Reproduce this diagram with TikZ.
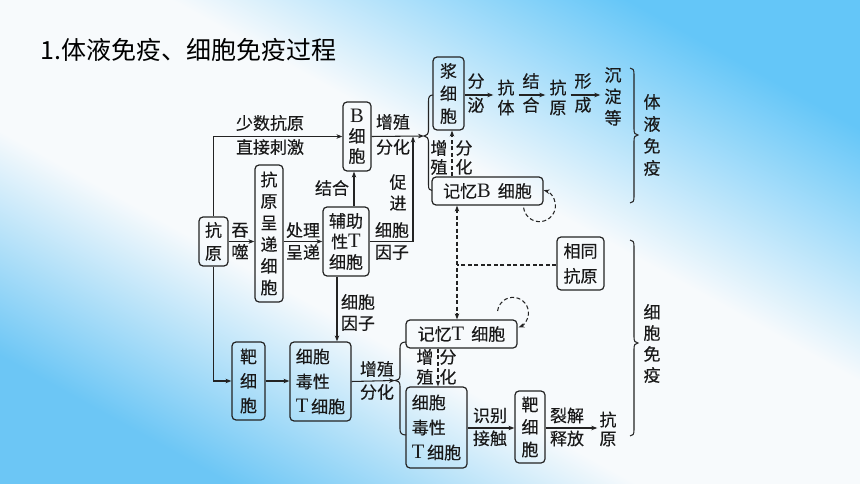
\documentclass[tikz,border=0pt]{standalone}
\usepackage{fontspec}
\usetikzlibrary{arrows.meta,calc}
\newfontfamily\cjk[FakeBold=0.35]{Noto Sans CJK SC}
\newfontfamily\ttl{Noto Sans CJK SC}
\newfontfamily\lat{Liberation Serif}
\newcommand\LL[1]{{\lat\fontsize{20.5}{20}\selectfont #1}}
\definecolor{linec}{RGB}{35,35,35}
\definecolor{txtc}{RGB}{25,25,25}
\definecolor{bgA}{RGB}{108,198,245}
\definecolor{bgB}{RGB}{100,198,248}
\definecolor{bgM}{RGB}{247,250,252}
\pgfdeclareverticalshading{bgsh}{100bp}{color(0bp)=(bgA); color(25bp)=(bgA); color(41bp)=(bgM); color(57bp)=(bgM); color(75bp)=(bgB); color(100bp)=(bgB)}
\tikzset{
  >={Stealth[length=6pt,width=4.5pt]},
  fnt/.style={font=\cjk\fontsize{17}{#1}\selectfont},
  fnt/.default=21,
  cbox/.style={draw=linec, line width=1.2pt, rounded corners=4pt, inner sep=0pt, align=center, text=txtc, fnt},
  lbl/.style={inner sep=0pt, align=center, text=txtc, fnt},
  ctext/.style={inner xsep=4pt, inner ysep=0pt, align=center, text=txtc, fnt},
  arr/.style={draw=linec, line width=1.05pt, ->},
  darr/.style={draw=linec, line width=1.05pt, dash pattern=on 4pt off 2.5pt},
  brc/.style={draw=linec, line width=1.05pt},
}
\begin{document}
\begin{tikzpicture}[x=1pt,y=1pt]
\fill[shading=bgsh, shading angle=-29] (0,0) rectangle (860,-484);
\useasboundingbox (0,0) rectangle (860,-484);

\node[anchor=west, inner sep=0pt, text=black, font=\ttl\fontsize{25}{26}\selectfont] (title) at (40,-50) {1.体液免疫、细胞免疫过程};

% boxes
\node[cbox,fnt=20,minimum width=28,minimum height=69] (B) at (357,-136.5) {\LL{B}\\细\\胞};
\node[cbox,fnt=22.5,minimum width=31,minimum height=73] (pl) at (448.5,-93.5) {浆\\细\\胞};
\node[cbox,minimum width=111,minimum height=28] (mB) at (487.5,-191) {记忆\LL{B}\hspace{7pt}细胞};
\node[cbox,fnt=23,minimum width=29,minimum height=49] (ag) at (213.5,-241.5) {抗\\原};
\node[cbox,fnt=21.6,minimum width=28,minimum height=137] (apc) at (269,-233.5) {抗\\原\\呈\\递\\细\\胞};
\node[cbox,fnt=20.5,minimum width=46,minimum height=69] (th) at (346,-241.5) {辅助\\性\LL{T}\\细胞};
\node[cbox,fnt=25,minimum width=47,minimum height=53] (same) at (580.5,-263.5) {相同\\抗原};
\node[cbox,minimum width=111,minimum height=28] (mT) at (461.5,-334) {记忆\LL{T}\hspace{7pt}细胞};
\node[cbox,fnt=24.5,minimum width=33,minimum height=78] (tg1) at (248.5,-381) {靶\\细\\胞};
\node[cbox,fnt=25,align=left,minimum width=61,minimum height=79] (ct1) at (320.5,-381.5) {细胞\\毒性\\\LL{T}\,细胞};
\node[cbox,fnt=25,align=left,minimum width=61,minimum height=81] (ct2) at (436.5,-427.5) {细胞\\毒性\\\LL{T}\,细胞};
\node[cbox,fnt=22.5,minimum width=30,minimum height=72] (tg2) at (530,-427) {靶\\细\\胞};

% chain texts
\node[ctext,fnt=20] (ab) at (506,-97.5) {抗\\体};
\node[ctext,fnt=20] (ag2) at (558,-97.5) {抗\\原};
\node[ctext,fnt=21.5] (pre) at (613,-96.5) {沉\\淀\\等};
\node[ctext,fnt=19,inner xsep=2pt] (ag3) at (608,-429) {抗\\原};

% labels
\node[lbl,fnt=24] (l1) at (270,-135) {少数抗原\\直接刺激};
\node[lbl,fnt=25] (l2) at (393,-134.5) {增殖\\分化};
\node[lbl] (l3) at (332,-188) {结合};
\node[lbl,fnt=21] (l4) at (398,-192.5) {促\\进};
\node[lbl,fnt=22] (l5) at (392,-241) {细胞\\因子};
\node[lbl,fnt=22] (l6) at (240,-241) {吞\\噬};
\node[lbl,fnt=22] (l7) at (303,-241) {处理\\呈递};
\node[lbl,fnt=21] (l8) at (358,-312.5) {细胞\\因子};
\node[lbl,fnt=23] (l9) at (377,-380.5) {增殖\\分化};
\node[lbl,fnt=19] (l10) at (439,-157.5) {增\\殖};
\node[lbl,fnt=19] (l11) at (464,-157.5) {分\\化};
\node[lbl,fnt=20] (l12) at (425,-367) {增\\殖};
\node[lbl,fnt=20] (l13) at (448,-367) {分\\化};
\node[lbl,fnt=23] (l14) at (490,-427) {识别\\接触};
\node[lbl,fnt=23] (l15) at (567,-427) {裂解\\释放};
\node[lbl,fnt=24] (l16) at (476,-93) {分\\泌};
\node[lbl,fnt=24] (l17) at (531,-93) {结\\合};
\node[lbl,fnt=24] (l18) at (583,-93) {形\\成};
\node[lbl,fnt=22] (humor) at (652,-135) {体\\液\\免\\疫};
\node[lbl,fnt=21] (cellim) at (652,-343.5) {细\\胞\\免\\疫};

% coordinates
\coordinate (br1) at (424,-136);
\coordinate (br2) at (395,-380.5);
\coordinate (j1) at (413,-136.5);
\coordinate (ay) at (0,-95);
\coordinate (by) at (0,-428);
\coordinate (hj) at (457,-265);

% braces
\draw[brc] (433,-95) .. controls (429.5,-95) and (428.5,-97) .. (428.5,-101) -- (428.5,-130) .. controls (428.5,-134) and (426.5,-136) .. (br1) .. controls (426.5,-136) and (428.5,-138) .. (428.5,-142) -- (428.5,-185) .. controls (428.5,-189) and (429.5,-190.5) .. (432,-190.5);
\draw[brc] (406,-342) .. controls (401.5,-342) and (400,-344) .. (400,-348) -- (400,-375) .. controls (400,-379) and (398,-380.5) .. (br2) .. controls (398,-380.5) and (400,-382) .. (400,-386) -- (400,-429) .. controls (400,-433) and (401.5,-435) .. (406,-435);
\draw[brc] (630,-68) .. controls (633,-68) and (634,-70) .. (634,-74) -- (634,-129) .. controls (634,-133) and (635,-135) .. (638,-135) .. controls (635,-135) and (634,-137) .. (634,-141) -- (634,-197) .. controls (634,-201) and (633,-203) .. (630,-203);
\draw[brc] (630,-240) .. controls (633,-240) and (634,-242) .. (634,-246) -- (634,-337) .. controls (634,-341) and (635,-343) .. (638,-343) .. controls (635,-343) and (634,-345) .. (634,-349) -- (634,-430) .. controls (634,-434) and (633,-436) .. (630,-436);

% connectors
\draw[arr] (ag.north) |- (B.west);
\draw[arr] (ag.south) |- (tg1.west);
\draw[arr] (ag.east) -- (ag.east -| apc.west);
\draw[arr] (apc.east |- th.west) -- (th.west);
\draw[arr] ([xshift=8pt]th.north) -- ([xshift=8pt]th.north |- B.south);
\draw[arr] (th.east) -| (j1);
\draw[arr] (B.east) -- (br1);
\draw[arr] ([xshift=-9pt]th.south) -- ([xshift=-9pt]th.south |- ct1.north);
\draw[arr] (tg1.east) -- (tg1.east -| ct1.west);
\draw[arr] (ct1.east) -- (br2);
\draw[arr] (pl.east |- ay) -- (ab.west |- ay);
\draw[arr] (ab.east |- ay) -- (ag2.west |- ay);
\draw[arr] (ag2.east |- ay) -- (pre.west |- ay);
\draw[darr,->] ([xshift=3.5pt]pl.south |- mB.north) -- ([xshift=3.5pt]pl.south);
\draw[darr,->] ([shift={(-20pt,-2pt)}]mB.south east) arc[start angle=187, end angle=435, radius=16];
\draw[darr] (same.west |- hj) -- (hj);
\draw[darr,<->] (hj |- mB.south) -- (hj |- mT.north);
\draw[darr,->] ([shift={(-20pt,8.4pt)}]mT.north east) arc[start angle=173, end angle=-69, radius=15.5];
\draw[darr,->] ([xshift=1.5pt]ct2.north |- mT.south) -- ([xshift=1.5pt]ct2.north);
\draw[arr] (ct2.east |- by) -- (tg2.west |- by);
\draw[arr] (tg2.east |- by) -- (ag3.west |- by);
\end{tikzpicture}
\end{document}
